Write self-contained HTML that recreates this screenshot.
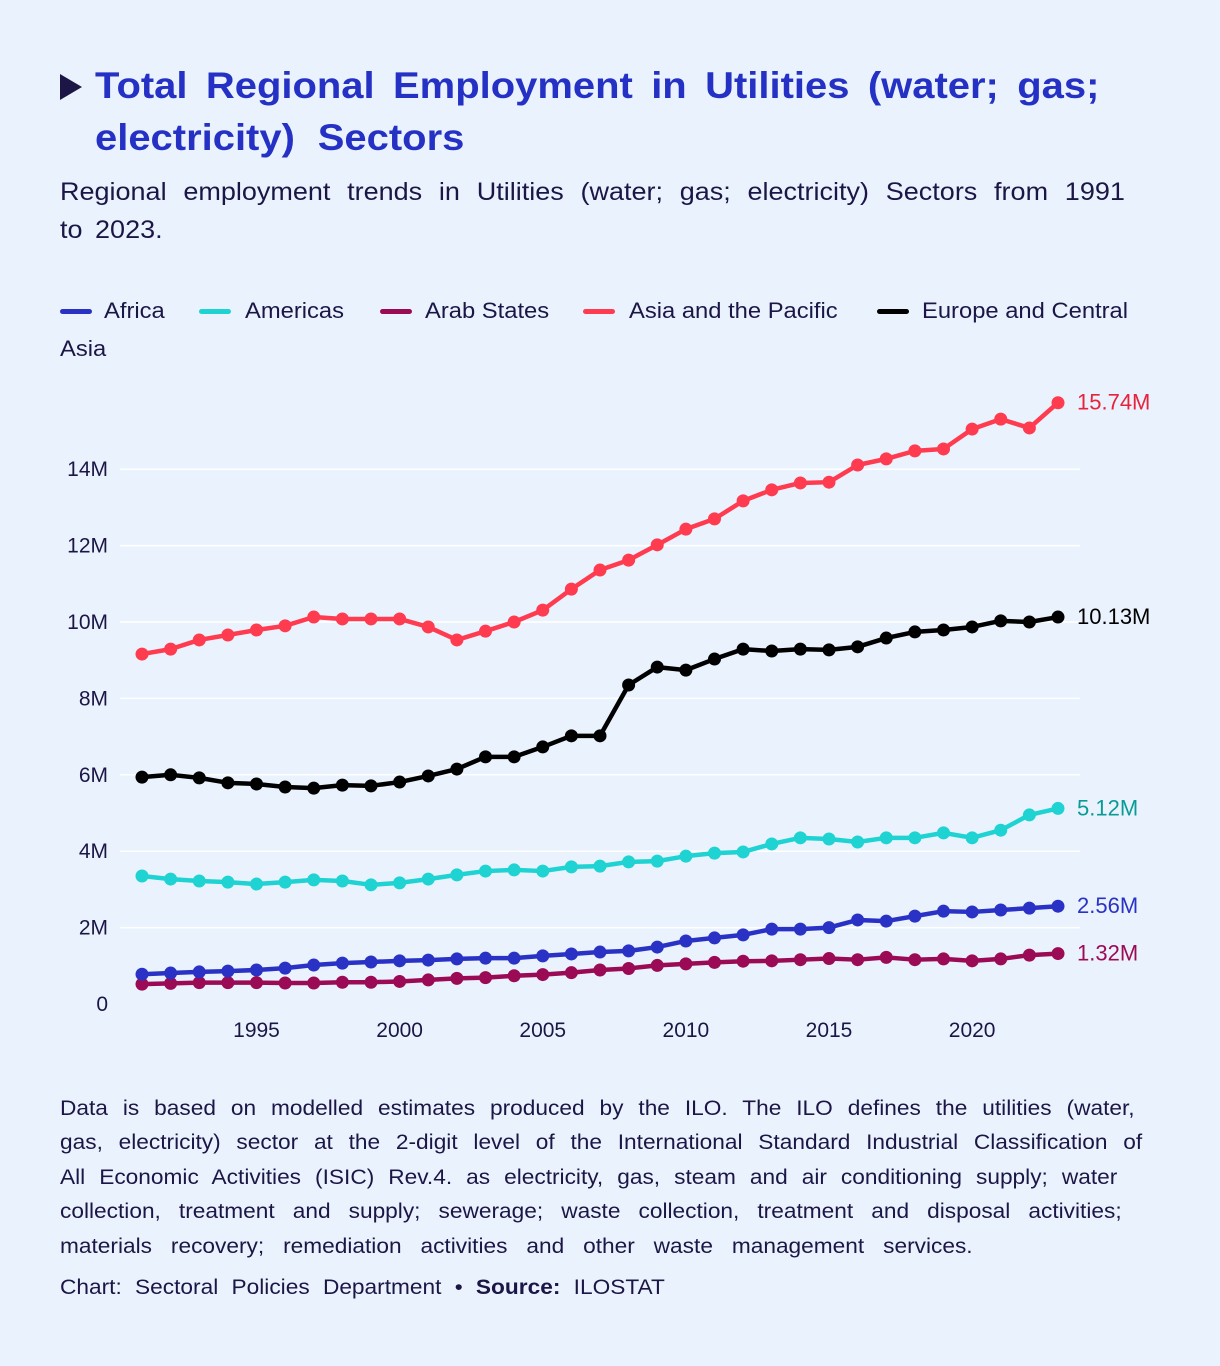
<!DOCTYPE html>
<html><head><meta charset="utf-8"><style>
body{margin:0;width:1220px;height:1366px;background:#eaf3fd;font-family:"Liberation Sans","DejaVu Sans",sans-serif;color:#1c1646;position:relative;overflow:hidden}
.tri{position:absolute;left:60px;top:74px;width:0;height:0;border-left:22px solid #1c1646;border-top:13px solid transparent;border-bottom:13px solid transparent}
.jl{position:absolute;display:block;text-align:justify;text-align-last:justify;transform:scaleX(1.08);transform-origin:0 0;white-space:normal}
.t{font-size:37px;font-weight:bold;color:#2431c4;left:95px}
.sub{font-size:25px;left:60px}
.note{font-size:21px;left:60px}
.lg{position:absolute;font-size:22px;top:298px;transform:scaleX(1.08);transform-origin:0 0}
.lb{position:absolute;width:32px;height:5px;border-radius:3px;top:309px}
</style></head><body>
<div class="tri"></div>
<div>
<span class="jl t" style="top:65px;width:930px">Total Regional Employment in Utilities (water; gas;</span>
<span class="jl t" style="top:117px;width:342px">electricity) Sectors</span>
</div>
<div>
<span class="jl sub" style="top:178px;width:986px">Regional employment trends in Utilities (water; gas; electricity) Sectors from 1991</span>
<span class="jl sub" style="top:216px;width:95px">to 2023.</span>
</div>
<div>
<div class="lb" style="left:60px;background:#2a32c6"></div>
<div class="lg" style="left:104px">Africa</div>
<div class="lb" style="left:199px;background:#1fd3d3"></div>
<div class="lg" style="left:245px">Americas</div>
<div class="lb" style="left:380px;background:#9b0b55"></div>
<div class="lg" style="left:425px">Arab States</div>
<div class="lb" style="left:583px;background:#ff3b50"></div>
<div class="lg" style="left:629px">Asia and the Pacific</div>
<div class="lb" style="left:877px;background:#000"></div>
<div class="lg" style="left:922px">Europe and Central</div>
<div class="lg" style="left:60px;top:336px">Asia</div>
</div>
<svg id="c" width="1220" height="1366" style="position:absolute;left:0;top:0"></svg>
<div>
<span class="jl note" style="top:1097px;width:995px">Data is based on modelled estimates produced by the ILO. The ILO defines the utilities (water,</span>
<span class="jl note" style="top:1131px;width:1002px">gas, electricity) sector at the 2-digit level of the International Standard Industrial Classification of</span>
<span class="jl note" style="top:1166px;width:979px">All Economic Activities (ISIC) Rev.4. as electricity, gas, steam and air conditioning supply; water</span>
<span class="jl note" style="top:1200px;width:983px">collection, treatment and supply; sewerage; waste collection, treatment and disposal activities;</span>
<span class="jl note" style="top:1235px;width:845px">materials recovery; remediation activities and other waste management services.</span>
</div>
<div>
<span class="jl note" style="top:1276px;width:560px">Chart: Sectoral Policies Department • <b>Source:</b> ILOSTAT</span>
</div>
<script>
const years=[];for(let y=1991;y<=2023;y++)years.push(y);
const yTicks=[0,2,4,6,8,10,12,14];
const xTicks=[1995,2000,2005,2010,2015,2020];
const africa=[0.78,0.81,0.84,0.86,0.89,0.94,1.02,1.07,1.1,1.13,1.15,1.18,1.2,1.2,1.26,1.31,1.36,1.39,1.49,1.65,1.73,1.81,1.96,1.96,2.0,2.2,2.17,2.3,2.43,2.41,2.46,2.51,2.56];
const americas=[3.35,3.27,3.22,3.19,3.14,3.19,3.25,3.22,3.12,3.17,3.27,3.38,3.48,3.51,3.48,3.59,3.61,3.72,3.74,3.87,3.95,3.98,4.19,4.35,4.32,4.24,4.35,4.35,4.48,4.35,4.55,4.95,5.12];
const arab=[0.52,0.54,0.56,0.56,0.56,0.55,0.55,0.57,0.57,0.59,0.63,0.67,0.69,0.74,0.77,0.82,0.89,0.93,1.01,1.05,1.09,1.12,1.13,1.16,1.19,1.16,1.22,1.16,1.18,1.13,1.18,1.28,1.32];
const asia=[9.16,9.29,9.53,9.66,9.79,9.9,10.13,10.08,10.08,10.08,9.87,9.53,9.76,10.0,10.31,10.86,11.36,11.62,12.02,12.43,12.7,13.17,13.46,13.64,13.66,14.11,14.27,14.48,14.53,15.05,15.31,15.08,15.74];
const europe=[5.94,6.0,5.92,5.79,5.76,5.68,5.65,5.73,5.71,5.81,5.97,6.15,6.47,6.47,6.73,7.02,7.02,8.35,8.82,8.74,9.03,9.29,9.24,9.29,9.27,9.35,9.58,9.74,9.79,9.87,10.03,10.0,10.13];
const series=[
 {name:'europe',v:europe,c:'#000',lc:'#000'},
 {name:'asia-pacific',v:asia,c:'#ff3b50',lc:'#e8213c'},
 {name:'americas',v:americas,c:'#1fd3d3',lc:'#0b9b96'},
 {name:'arab-states',v:arab,c:'#9b0b55',lc:'#9b0b55'},
 {name:'africa',v:africa,c:'#2a32c6',lc:'#2a32c6'}];
const X=y=>142+(y-1991)*(1058-142)/32;
const Y=v=>1004-v*38.2;
const s=document.getElementById('c'),NS='http://www.w3.org/2000/svg';
function mk(t,a,p){const e=document.createElementNS(NS,t);for(const k in a)e.setAttribute(k,a[k]);(p||s).appendChild(e);return e;}
yTicks.forEach(t=>{
 if(t>0){const g=mk('line',{x1:120,x2:1080,y1:Y(t),y2:Y(t),stroke:'#fff','stroke-width':1.5});
 
 }
 const l=mk('text',{x:108,y:Y(t)+7,'text-anchor':'end','font-size':21,fill:'#1c1646'});
 l.textContent=t===0?'0':t+'M';
 
 
});
xTicks.forEach(t=>{
 const l=mk('text',{x:X(t),y:1037,'text-anchor':'middle','font-size':21,fill:'#1c1646'});
 l.textContent=t;
 
 
});
series.forEach(se=>{
 const g=mk('g',{});
 
 
 const p=mk('polyline',{points:se.v.map((v,i)=>X(years[i])+','+Y(v)).join(' '),fill:'none',stroke:se.c,'stroke-width':4.5,'stroke-linejoin':'round'},g);
 
 
 se.v.forEach((v,i)=>{const d=mk('circle',{cx:X(years[i]),cy:Y(v),r:6.5,fill:se.c},g);
 
 });
 const last=se.v[se.v.length-1];
 const t=mk('text',{x:1077,y:Y(last)+7,'font-size':22,fill:se.lc},g);
 t.textContent=last.toFixed(2)+'M';
 
 
});
</script>
</body></html>
